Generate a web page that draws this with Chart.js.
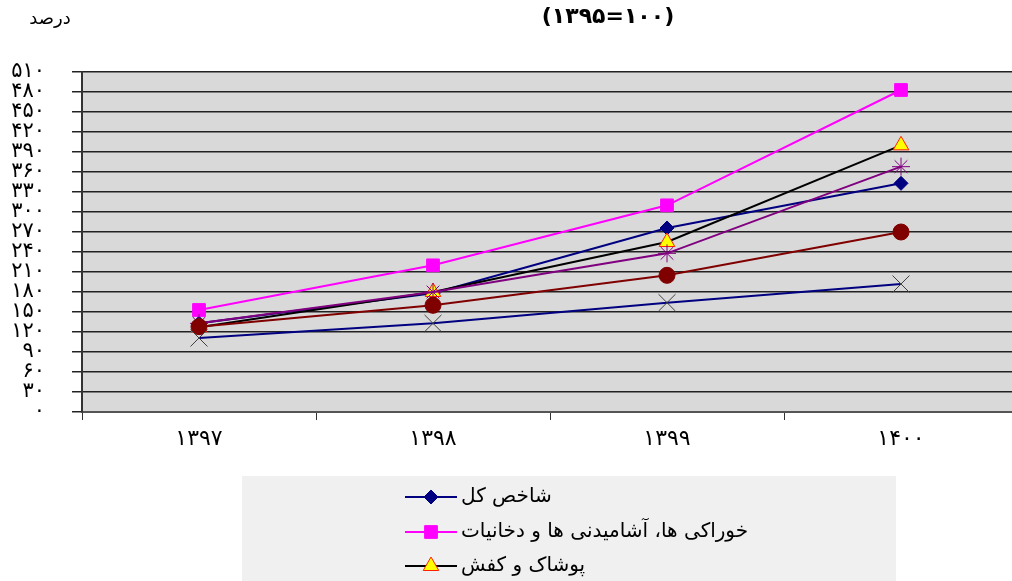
<!DOCTYPE html>
<html>
<head>
<meta charset="utf-8">
<script src="https://cdn.jsdelivr.net/npm/chart.js@4.4.0/dist/chart.umd.min.js"></script>
<style>
  html, body { margin: 0; padding: 0; background: #fff; overflow: hidden; }
  #wrap { position: relative; width: 1018px; height: 581px; }
</style>
</head>
<body>
<div id="wrap"><canvas id="myChart" width="1018" height="581"></canvas></div>
<script>
// data
const years = ["۱۳۹۷", "۱۳۹۸", "۱۳۹۹", "۱۴۰۰"];
const totalIndex = [133, 178, 276, 343];
const foodIndex = [153, 220, 310, 483];
const clothingIndex = [127, 180, 255, 400];
const healthIndex = [133, 180, 238, 368];
const housingIndex = [128, 160, 205, 270];
const transportIndex = [111, 133, 164, 192];
const seriesNames = [
  "شاخص کل",
  "خوراکی ها، آشامیدنی ها و دخانیات",
  "پوشاک و کفش",
  "بهداشت و درمان",
  "مسکن، آب، برق و گاز",
  "حمل و نقل"
];
const yMin = 0, yMax = 510, yStep = 30;
const titleText = "(۱۳۹۵=۱۰۰)";
const unitText = "درصد";

const FONT = "'DejaVu Sans', sans-serif";

function faDigits(n) {
  return String(n).replace(/\d/g, d => "۰۱۲۳۴۵۶۷۸۹"[d]);
}

const ctx = document.getElementById("myChart").getContext("2d");

const plotBg = {
  id: "plotBg",
  beforeDraw: chart => {
    const a = chart.chartArea;
    const c = chart.ctx;
    c.save();
    c.fillStyle = "#d9d9d9";
    c.fillRect(a.left, a.top, a.right - a.left, a.bottom - a.top);
    c.restore();
  }
};

// title, unit label and the (clipped) legend box
const extras = {
  id: "extras",
  afterDraw: chart => {
    const c = chart.ctx;
    c.save();
    c.fillStyle = "#000";
    c.textBaseline = "middle";
    c.textAlign = "center";
    c.font = "bold 22px " + FONT;
    c.fillText(titleText, 608, 17);
    c.font = "18px " + FONT;
    c.fillText(unitText, 50, 19);

    // legend
    c.fillStyle = "#f0f0f0";
    c.fillRect(242, 476, 654, 120);
    const rows = [497, 532, 566];
    for (let i = 0; i < 3; i++) {
      const ds = chart.data.datasets[i];
      const y = rows[i];
      c.strokeStyle = ds.borderColor;
      c.lineWidth = 2;
      c.beginPath();
      c.moveTo(405, y);
      c.lineTo(457, y);
      c.stroke();
      c.fillStyle = ds.pointBackgroundColor;
      c.strokeStyle = ds.pointBorderColor;
      c.lineWidth = ds.pointBorderWidth;
      Chart.helpers.drawPoint(c, {
        pointStyle: ds.pointStyle,
        radius: ds.pointRadius,
        rotation: 0,
        borderWidth: ds.pointBorderWidth
      }, 431, y);
      c.fillStyle = "#000";
      c.font = "20px " + FONT;
      c.textAlign = "left";
      c.direction = "rtl";
      c.fillText(ds.label, 461, y);
      c.direction = "ltr";
    }
    c.restore();
  }
};

function series(label, data, line, style, fill, border, radius, order) {
  return {
    label: label,
    data: data,
    borderColor: line,
    borderWidth: 2,
    tension: 0,
    pointStyle: style,
    pointRadius: radius,
    pointHoverRadius: radius,
    pointBackgroundColor: fill,
    pointBorderColor: border,
    pointBorderWidth: 1,
    order: order
  };
}

const myChart = new Chart(ctx, {
  type: "line",
  plugins: [plotBg, extras],
  data: {
    labels: years,
    datasets: [
      series(seriesNames[0], totalIndex, "#000080", "rectRot", "#000080", "#000080", 7, 6),
      series(seriesNames[1], foodIndex, "#ff00ff", "rect", "#ff00ff", "#ff00ff", 9, 5),
      series(seriesNames[2], clothingIndex, "#000000", "triangle", "#ffff00", "#ff2000", 9, 4),
      series(seriesNames[3], healthIndex, "#800080", "star", "#800080", "#800080", 9, 3),
      series(seriesNames[4], housingIndex, "#800000", "circle", "#800000", "#800000", 8, 2),
      series(seriesNames[5], transportIndex, "#000080", "crossRot", "#404040", "#404040", 12, 1)
    ]
  },
  options: {
    responsive: false,
    animation: false,
    layout: {
      autoPadding: false,
      padding: { top: 72, left: 0, right: 0, bottom: 119 }
    },
    plugins: {
      legend: { display: false },
      title: { display: false },
      tooltip: { enabled: false }
    },
    scales: {
      x: {
        offset: true,
        afterFit: scale => {
          scale.height = 50;
          scale.paddingLeft = 0;
          scale.paddingRight = 0;
        },
        grid: {
          offset: true,
          drawOnChartArea: false,
          drawTicks: true,
          tickLength: 8,
          color: "#333"
        },
        border: { display: true, color: "#555", width: 2 },
        ticks: {
          color: "#000",
          padding: 6,
          font: { family: FONT, size: 22 }
        }
      },
      y: {
        min: yMin,
        max: yMax,
        afterFit: scale => { scale.width = 82; },
        grid: {
          color: "#222",
          lineWidth: 1.5,
          drawTicks: true,
          tickLength: 10
        },
        border: { display: true, color: "#333", width: 2 },
        ticks: {
          stepSize: yStep,
          autoSkip: false,
          color: "#000",
          padding: 27,
          font: { family: FONT, size: 21 },
          callback: v => faDigits(v)
        }
      }
    }
  }
});
</script>
</body>
</html>
